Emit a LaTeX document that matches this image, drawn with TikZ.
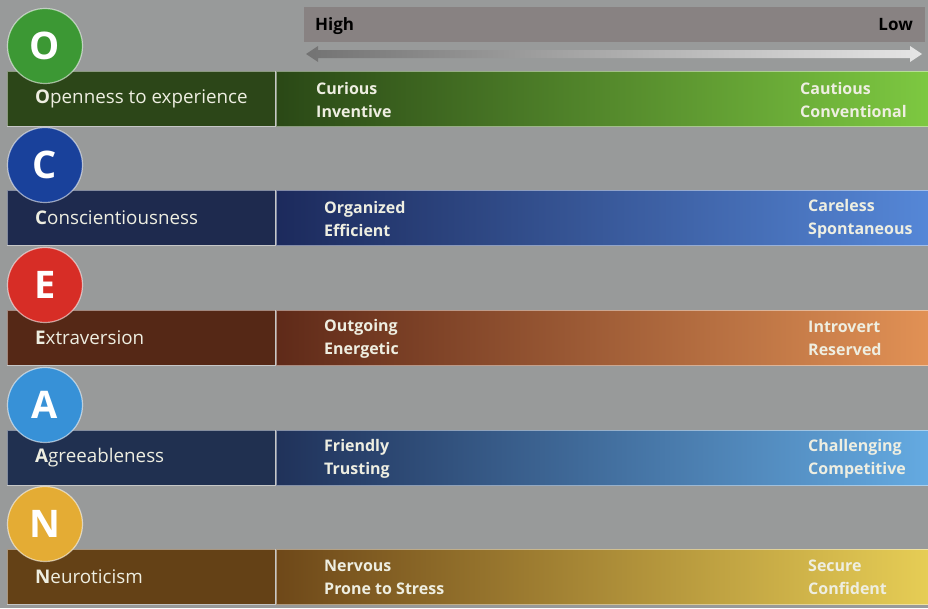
\documentclass[tikz,border=0pt]{standalone}
\usepackage{fontspec}
\setmainfont{Open Sans}

% page and scale colours
\definecolor{pagegray}{RGB}{152,154,154}
\definecolor{headgray}{RGB}{136,130,130}
\definecolor{labeltext}{RGB}{238,238,225}
% Openness
\definecolor{Obox}{RGB}{44,70,24}
\definecolor{Oleft}{RGB}{42,72,22}
\definecolor{Omid}{RGB}{75,130,35}
\definecolor{Oright}{RGB}{125,200,65}
\definecolor{Ocirc}{RGB}{60,152,52}
% Conscientiousness
\definecolor{Cbox}{RGB}{30,42,78}
\definecolor{Cleft}{RGB}{28,42,92}
\definecolor{Cmid}{RGB}{45,75,150}
\definecolor{Cright}{RGB}{85,135,215}
\definecolor{Ccirc}{RGB}{25,65,155}
% Extraversion
\definecolor{Ebox}{RGB}{85,40,22}
\definecolor{Eleft}{RGB}{95,42,25}
\definecolor{Emid}{RGB}{170,85,50}
\definecolor{Eright}{RGB}{225,145,85}
\definecolor{Ecirc}{RGB}{215,45,38}
% Agreeableness
\definecolor{Abox}{RGB}{32,48,80}
\definecolor{Aleft}{RGB}{32,50,90}
\definecolor{Amid}{RGB}{55,105,175}
\definecolor{Aright}{RGB}{100,170,225}
\definecolor{Acirc}{RGB}{55,145,215}
% Neuroticism
\definecolor{Nbox}{RGB}{100,65,22}
\definecolor{Nleft}{RGB}{110,72,25}
\definecolor{Nmid}{RGB}{180,135,45}
\definecolor{Nright}{RGB}{230,205,85}
\definecolor{Ncirc}{RGB}{228,172,52}

\tikzset{
  barline/.style={draw=white, draw opacity=0.45, line width=0.9pt},
  traitname/.style={anchor=west, text=labeltext, inner sep=0pt,
    font=\fontsize{18.8}{22}\selectfont},
  polelabel/.style={anchor=west, text=labeltext, inner sep=0pt, align=left,
    font=\bfseries\fontsize{16}{23}\selectfont},
  badge/.style={circle, minimum size=75pt, inner sep=0pt, text=white,
    draw=white, draw opacity=0.55, line width=1.2pt,
    font=\bfseries\fontsize{38}{38}\selectfont},
  scaleword/.style={inner sep=0pt, text=black,
    font=\bfseries\fontsize{17}{20}\selectfont},
}

% #1 top of the bar, #2 colour key, #3 badge letter, #4 rest of the name,
% #5 high pole text, #6 low pole text, #7 x of the high text
\newcommand\traitrow[7]{%
  \path[fill=#2box, barline] (7,#1) rectangle ({275},{#1+55});
  \path[left color=#2left, middle color=#2mid, right color=#2right]
    (276,#1) rectangle ({928},{#1+55});
  \path[barline] (276,#1) rectangle ({929},{#1+55});
  \node[traitname] (#2-name) at ({35},{#1+27.5}) {\textbf{#3}#4};
  \node[polelabel] (#2-high) at ({#7},{#1+28.5}) {#5};
  \node[polelabel] (#2-low) at ({#7+484},{#1+28.5}) {#6};
  \node[badge, fill=#2circ] (#2-badge) at ({45},{#1-25}) {#3};
}

\begin{document}
\begin{tikzpicture}[x=1pt,y=-1pt]
  \fill[pagegray] (0,0) rectangle (928,608);
  \useasboundingbox (0,0) rectangle (928,608);

  % scale header: High ... Low with a double arrow
  \fill[headgray] (304,7) rectangle (925,42);
  \node[scaleword, anchor=base west] (high) at (315,30) {High};
  \node[scaleword, anchor=base east] (low) at (913,30) {Low};
  \shade[left color=black!55, middle color=black!25, right color=black!10]
    (306,54) -- (318,46) -- (318,50) -- (910,50) -- (910,46) -- (922,54)
    -- (910,62) -- (910,58) -- (318,58) -- (318,62) -- cycle;

  \traitrow{71}{O}{O}{penness to experience}{Curious\\Inventive}{Cautious\\Conventional}{316}
  \traitrow{190}{C}{C}{onscientiousness}{Organized\\Efficient}{Careless\\Spontaneous}{324}
  \traitrow{310}{E}{E}{xtraversion}{Outgoing\\Energetic}{Introvert\\Reserved}{324}
  \traitrow{430}{A}{A}{greeableness}{Friendly\\Trusting}{Challenging\\Competitive}{324}
  \traitrow{549}{N}{N}{euroticism}{Nervous\\Prone to Stress}{Secure\\Confident}{324}
\end{tikzpicture}
\end{document}
